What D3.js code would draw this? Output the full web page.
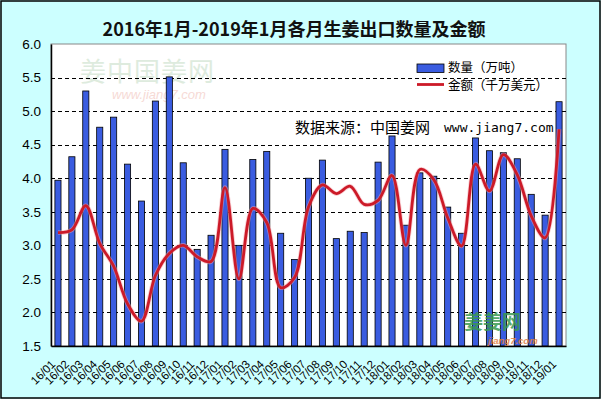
<!DOCTYPE html>
<html>
<head>
<meta charset="utf-8">
<script src="https://cdn.jsdelivr.net/npm/d3@7"></script>
<style>
  html, body { margin: 0; padding: 0; background: #ccffff; }
  svg { display: block; }
</style>
</head>
<body>
<div id="container"></div>
<script>
// months 16/01 .. 19/01
var months = [
  '16/01','16/02','16/03','16/04','16/05','16/06','16/07','16/08','16/09','16/10','16/11','16/12',
  '17/01','17/02','17/03','17/04','17/05','17/06','17/07','17/08','17/09','17/10','17/11','17/12',
  '18/01','18/02','18/03','18/04','18/05','18/06','18/07','18/08','18/09','18/10','18/11','18/12',
  '19/01'
];
// 数量（万吨）
var quantity = [
  3.97, 4.32, 5.30, 4.76, 4.91, 4.21, 3.66, 5.15, 5.51, 4.23, 2.94, 3.15,
  4.43, 3.00, 4.28, 4.40, 3.18, 2.79, 4.00, 4.27, 3.10, 3.21, 3.19, 4.24,
  4.63, 3.30, 4.08, 4.03, 3.57, 3.18, 4.60, 4.41, 4.38, 4.29, 3.76, 3.45,
  5.14
];
// 金额（千万美元）
var amount = [
  3.19, 3.23, 3.59, 3.03, 2.69, 2.13, 1.87, 2.55, 2.88, 3.00, 2.83, 2.76,
  3.86, 2.50, 3.55, 3.34, 2.37, 2.52, 3.57, 3.90, 3.77, 3.88, 3.61, 3.67,
  4.04, 3.00, 4.13, 3.98, 3.41, 2.99, 4.21, 3.81, 4.35, 4.05, 3.44, 3.11,
  4.73
];
var yTicks = [1.5, 2.0, 2.5, 3.0, 3.5, 4.0, 4.5, 5.0, 5.5, 6.0];
var seriesNames = ['数量（万吨）', '金额（千万美元）'];

var width = 601;
var height = 399;
var margin = {top: 44, right: 35, bottom: 53, left: 51};

var svg = d3.select('#container')
  .append('svg')
  .attr('width', width)
  .attr('height', height);

// outer frame
svg.append('rect')
  .attr('x', 1).attr('y', 1)
  .attr('width', width - 2).attr('height', height - 2)
  .attr('fill', '#ccffff')
  .attr('stroke', '#000')
  .attr('stroke-width', 1.5);

var x = d3.scaleBand()
  .domain(months)
  .range([margin.left, width - margin.right])
  .paddingInner(0.56)
  .paddingOuter(0.28);

var y = d3.scaleLinear()
  .domain([1.5, 6.0])
  .range([height - margin.bottom, margin.top]);

// plot area
svg.append('rect')
  .attr('x', margin.left).attr('y', margin.top)
  .attr('width', width - margin.left - margin.right)
  .attr('height', height - margin.top - margin.bottom)
  .attr('fill', '#fff')
  .attr('stroke', '#888')
  .attr('stroke-width', 1);

// watermark top-left
svg.append('text')
  .attr('x', 80).attr('y', 81)
  .attr('font-family', 'Noto Sans CJK SC')
  .attr('font-size', 26)
  .attr('fill', '#c4dcc4')
  .attr('opacity', 0.55)
  .attr('letter-spacing', 1)
  .text('姜中国姜网');
svg.append('text')
  .attr('x', 112).attr('y', 99)
  .attr('font-family', 'Liberation Sans')
  .attr('font-style', 'italic')
  .attr('font-size', 13)
  .attr('fill', '#f0bcb4')
  .attr('opacity', 0.55)
  .text('www.jiang7.com');

// grid lines
svg.append('g')
  .selectAll('line')
  .data(yTicks.filter((d) => d > 1.5 && d < 6.0))
  .enter()
  .append('line')
  .attr('x1', margin.left)
  .attr('x2', width - margin.right)
  .attr('y1', (d) => Math.round(y(d)) + 0.5)
  .attr('y2', (d) => Math.round(y(d)) + 0.5)
  .attr('stroke', '#000')
  .attr('stroke-width', 1)
  .attr('stroke-dasharray', '4,3');

// bars
svg.append('g')
  .selectAll('rect')
  .data(quantity)
  .enter()
  .append('rect')
  .attr('x', (d, i) => x(months[i]))
  .attr('y', (d) => y(d))
  .attr('width', x.bandwidth())
  .attr('height', (d) => y(1.5) - y(d))
  .attr('fill', '#3a5ce0')
  .attr('stroke', '#000')
  .attr('stroke-width', 0.8);

// smoothed line
var line = d3.line()
  .x((d, i) => x(months[i]) + x.bandwidth() / 2)
  .y((d) => y(d))
  .curve(d3.curveCatmullRom.alpha(0.5));

svg.append('path')
  .datum(amount)
  .attr('d', line)
  .attr('fill', 'none')
  .attr('stroke', '#f4a0a8')
  .attr('stroke-width', 4.5)
  .attr('opacity', 0.5);
svg.append('path')
  .datum(amount)
  .attr('d', line)
  .attr('fill', 'none')
  .attr('stroke', '#cc1a28')
  .attr('stroke-width', 2.8);

// axes
var yAxis = d3.axisLeft(y).tickValues(yTicks).tickSize(0).tickPadding(10)
  .tickFormat(d3.format('.1f'));
var gy = svg.append('g')
  .attr('transform', 'translate(' + margin.left + ',0)')
  .call(yAxis);
gy.select('.domain').attr('stroke', '#000').attr('stroke-width', 1.5);
gy.selectAll('text')
  .attr('font-family', 'Liberation Sans, Arial')
  .attr('font-size', 13.5)
  .attr('fill', '#000');

var xAxis = d3.axisBottom(x).tickSize(0).tickPadding(0);
var gx = svg.append('g')
  .attr('transform', 'translate(0,' + (height - margin.bottom) + ')')
  .call(xAxis);
gx.select('.domain').attr('stroke', '#000').attr('stroke-width', 1.5);
gx.selectAll('text')
  .attr('font-family', 'Liberation Sans, Arial')
  .attr('font-size', 11.5)
  .attr('fill', '#000')
  .attr('text-anchor', 'end')
  .attr('dy', null)
  .attr('y', null)
  .attr('transform', 'translate(-2,19) rotate(-45)');

// title
svg.append('text')
  .attr('x', 294).attr('y', 36)
  .attr('text-anchor', 'middle')
  .attr('font-family', 'Noto Sans CJK SC')
  .attr('font-weight', 'bold')
  .attr('font-size', 18)
  .attr('fill', '#111')
  .text('2016年1月-2019年1月各月生姜出口数量及金额');

// legend
var legend = svg.append('g');
legend.append('rect')
  .attr('x', 417).attr('y', 64)
  .attr('width', 27).attr('height', 8.5)
  .attr('fill', '#3a5ce0')
  .attr('stroke', '#000')
  .attr('stroke-width', 0.8);
legend.append('line')
  .attr('x1', 417).attr('x2', 444)
  .attr('y1', 84.5).attr('y2', 84.5)
  .attr('stroke', '#cc1a28')
  .attr('stroke-width', 2.8);
legend.selectAll('text')
  .data(seriesNames)
  .enter()
  .append('text')
  .attr('x', 448)
  .attr('y', (d, i) => 72 + i * 17.5)
  .attr('font-family', 'Noto Sans CJK SC')
  .attr('font-size', 12.5)
  .attr('fill', '#000')
  .text((d) => d);

// source note
svg.append('text')
  .attr('x', 295).attr('y', 133)
  .attr('font-family', 'Noto Sans CJK SC')
  .attr('font-size', 15)
  .attr('fill', '#000')
  .text('数据来源：中国姜网');
svg.append('text')
  .attr('x', 444).attr('y', 132)
  .attr('font-family', 'DejaVu Sans Mono')
  .attr('font-size', 13)
  .attr('fill', '#000')
  .text('www.jiang7.com');

// bottom-right logo
svg.append('text')
  .attr('x', 464).attr('y', 329)
  .attr('font-family', 'Noto Sans CJK SC')
  .attr('font-weight', 'bold')
  .attr('font-size', 19)
  .attr('fill', '#3a9a50')
  .attr('opacity', 0.85)
  .text('姜姜网');
svg.append('text')
  .attr('x', 488).attr('y', 344)
  .attr('font-family', 'Liberation Sans')
  .attr('font-weight', 'bold')
  .attr('font-style', 'italic')
  .attr('font-size', 9.5)
  .attr('fill', '#e08040')
  .attr('opacity', 0.85)
  .text('jiang7.com');
</script>
</body>
</html>
